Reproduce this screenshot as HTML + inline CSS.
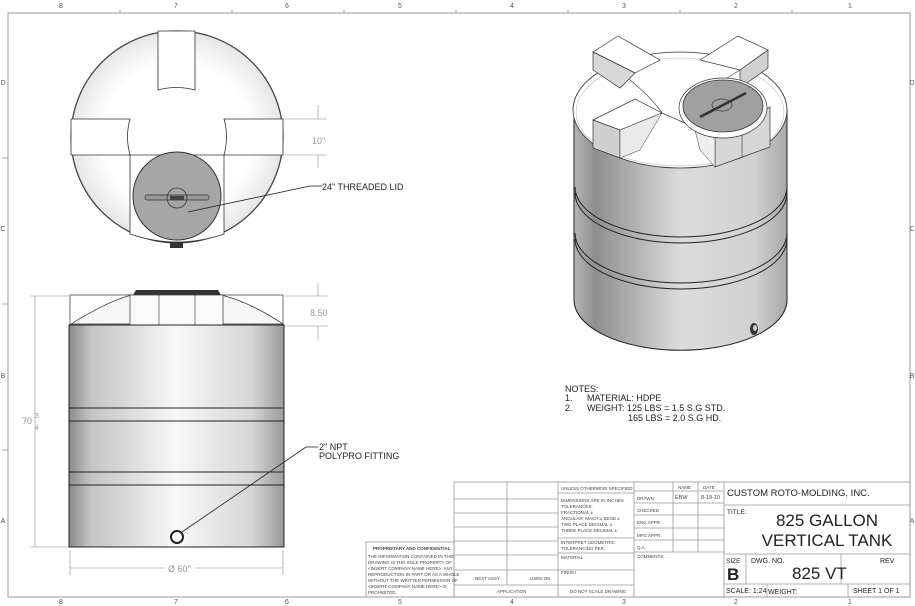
<!DOCTYPE html>
<html><head><style>
body{margin:0;background:#fff}
svg{display:block;font-family:"Liberation Sans",sans-serif}
</style></head><body>
<svg width="915" height="606" viewBox="0 0 915 606" xmlns="http://www.w3.org/2000/svg">
<defs>
<linearGradient id="cyl" x1="0" x2="1" y1="0" y2="0">
<stop offset="0" stop-color="#8a8a8a"/><stop offset="0.1" stop-color="#c4c4c4"/><stop offset="0.5" stop-color="#f8f8f8"/><stop offset="0.85" stop-color="#d6d6d6"/><stop offset="1" stop-color="#9a9a9a"/>
</linearGradient>
<linearGradient id="iso" x1="0" x2="1" y1="0" y2="0">
<stop offset="0" stop-color="#b5b5b5"/><stop offset="0.1" stop-color="#8e8e8e"/><stop offset="0.5" stop-color="#dcdcdc"/><stop offset="0.85" stop-color="#d0d0d0"/><stop offset="1" stop-color="#a8a8a8"/>
</linearGradient>
<radialGradient id="top" cx="0.5" cy="0.5" r="0.5"><stop offset="0.7" stop-color="#fff"/><stop offset="1" stop-color="#e6e6e6"/></radialGradient>
</defs>
<rect x="8" y="13" width="902" height="584" fill="none" stroke="#999" stroke-width="1"/>
<g fill="#555" font-size="7" text-anchor="middle">
<text x="61" y="8">8</text><text x="176" y="8">7</text><text x="287" y="8">6</text><text x="400" y="8">5</text><text x="512" y="8">4</text><text x="624" y="8">3</text><text x="736" y="8">2</text><text x="850" y="8">1</text>
<text x="61" y="604">8</text><text x="176" y="604">7</text><text x="287" y="604">6</text><text x="400" y="604">5</text><text x="512" y="604">4</text><text x="624" y="604">3</text><text x="736" y="604">2</text><text x="850" y="604">1</text>
<text x="3" y="85">D</text><text x="3" y="231">C</text><text x="3" y="378">B</text><text x="3" y="523">A</text>
<text x="912" y="85">D</text><text x="912" y="231">C</text><text x="912" y="378">B</text><text x="912" y="523">A</text>
</g>
<g stroke="#aaa" stroke-width="1">
<line x1="120" y1="10" x2="120" y2="13"/><line x1="232" y1="10" x2="232" y2="13"/><line x1="344" y1="10" x2="344" y2="13"/><line x1="456" y1="10" x2="456" y2="13"/><line x1="568" y1="10" x2="568" y2="13"/><line x1="680" y1="10" x2="680" y2="13"/><line x1="792" y1="10" x2="792" y2="13"/>
<line x1="2" y1="158" x2="8" y2="158"/><line x1="2" y1="304" x2="8" y2="304"/><line x1="2" y1="450" x2="8" y2="450"/>
</g>

<circle cx="177" cy="137" r="106" fill="url(#top)" stroke="#444" stroke-width="1.3"/>
<path d="M158 31 L195 31 L195 90 Q176 85 158 90 Z" fill="#fff" stroke="#333" stroke-width="0.8"/>
<path d="M71 119 L130 119 Q125 137 130 155 L71 155 Z" fill="#fff" stroke="#333" stroke-width="0.8"/>
<path d="M283 119 L224 119 Q229 137 224 155 L283 155 Z" fill="#fff" stroke="#333" stroke-width="0.8"/>
<path d="M130 155 L224 155 L224 234 Q177 250 130 234 Z" fill="#fff" stroke="#333" stroke-width="0.8"/>
<circle cx="177" cy="196" r="44" fill="#a6a6a6" stroke="#333" stroke-width="1"/>
<rect x="145" y="195" width="64" height="5" rx="2" fill="#999" stroke="#333" stroke-width="0.7"/>
<circle cx="177" cy="198" r="10" fill="none" stroke="#333" stroke-width="0.8"/>
<rect x="170" y="196" width="14" height="4" fill="#444"/>
<rect x="170" y="242" width="13" height="6" fill="#333"/>
<line x1="188" y1="212" x2="310" y2="186" stroke="#222" stroke-width="0.8"/>
<line x1="310" y1="186" x2="322" y2="186" stroke="#222" stroke-width="0.8"/>
<text x="322" y="190" font-size="9" fill="#222">24" THREADED LID</text>
<g stroke="#888" stroke-width="0.6"><line x1="285" y1="119" x2="327" y2="119"/><line x1="285" y1="155" x2="327" y2="155"/><line x1="318" y1="105" x2="318" y2="119"/><line x1="318" y1="155" x2="318" y2="168"/></g>
<text x="312" y="144" font-size="9" fill="#999">10"</text>

<rect x="70" y="295" width="213" height="30" fill="#fff" stroke="#333" stroke-width="0.7"/>
<path d="M71 324 Q110 300 132 295 L221 295 Q250 302 283 324 Z" fill="#f7f7f7" stroke="#333" stroke-width="0.7"/>
<rect x="130" y="295" width="93" height="30" fill="#fafafa" stroke="#333" stroke-width="0.7"/>
<line x1="159" y1="295" x2="159" y2="325" stroke="#333" stroke-width="0.6"/><line x1="195" y1="295" x2="195" y2="325" stroke="#333" stroke-width="0.6"/>
<path d="M133 295 L136 290 L218 290 L221 295 Z" fill="#333"/>
<rect x="69" y="325" width="215" height="222" fill="url(#cyl)" stroke="#222" stroke-width="1"/>
<g stroke="#222" stroke-width="1"><line x1="69" y1="408" x2="284" y2="408"/><line x1="69" y1="421" x2="284" y2="421"/><line x1="69" y1="472" x2="284" y2="472"/><line x1="69" y1="485" x2="284" y2="485"/></g>
<circle cx="177" cy="537" r="6" fill="#fff" stroke="#222" stroke-width="2"/>
<line x1="182" y1="532" x2="306" y2="447" stroke="#222" stroke-width="0.8"/><line x1="306" y1="447" x2="318" y2="447" stroke="#222" stroke-width="0.8"/>
<text x="319" y="450" font-size="9" fill="#222">2" NPT</text>
<text x="319" y="459" font-size="9" fill="#222">POLYPRO FITTING</text>
<g stroke="#888" stroke-width="0.6">
<line x1="285" y1="296" x2="328" y2="296"/><line x1="285" y1="326" x2="328" y2="326"/><line x1="318" y1="283" x2="318" y2="296"/><line x1="318" y1="326" x2="318" y2="340"/>
<line x1="30" y1="296" x2="69" y2="296"/><line x1="30" y1="547" x2="69" y2="547"/><line x1="35" y1="296" x2="35" y2="547"/>
<line x1="70" y1="550" x2="70" y2="575"/><line x1="283" y1="550" x2="283" y2="575"/><line x1="70" y1="568" x2="165" y2="568"/><line x1="195" y1="568" x2="283" y2="568"/>
</g>
<text x="310" y="316" font-size="9" fill="#999">8.50</text>
<text x="22" y="424" font-size="9" fill="#999">70</text><text x="35" y="418" font-size="7" fill="#999">3</text><text x="35" y="430" font-size="7" fill="#999">4</text>
<text x="168" y="572" font-size="9" fill="#999">Ø 60"</text>

<path d="M574 110 L574 300 A106 50 0 0 0 787 300 L787 110 Z" fill="url(#iso)" stroke="#222" stroke-width="1"/>
<ellipse cx="680" cy="110" rx="107" ry="58" fill="#fff" stroke="#333" stroke-width="0.8"/>
<ellipse cx="680" cy="112" rx="104" ry="54" fill="none" stroke="#bbb" stroke-width="0.6"/>
<g fill="none" stroke="#222" stroke-width="1">
<path d="M575 187 A106 50 0 0 0 787 187"/><path d="M575 193 A106 50 0 0 0 787 193"/>
<path d="M575 233 A106 50 0 0 0 787 233"/><path d="M575 239 A106 50 0 0 0 787 239"/>
</g>
<g stroke="#444" stroke-width="0.7" fill="none">
<path d="M620 72 Q650 95 662 113"/><path d="M662 113 Q640 140 620 158"/><path d="M662 113 Q690 125 715 137"/><path d="M740 70 Q715 85 695 100"/>
</g>
<path d="M593 52 L618 36 L660 60 L635 73 Z" fill="#fff" stroke="#333" stroke-width="0.7"/>
<path d="M593 52 L593 70 L620 88 L635 73 Z" fill="#d8d8d8" stroke="#333" stroke-width="0.7"/>
<path d="M700 60 L738 36 L768 50 L740 70 Z" fill="#fff" stroke="#333" stroke-width="0.7"/>
<path d="M768 50 L768 68 L740 88 L740 70 Z" fill="#d0d0d0" stroke="#333" stroke-width="0.7"/>
<path d="M593 120 L635 99 L662 113 L620 130 Z" fill="#fff" stroke="#333" stroke-width="0.7"/>
<path d="M593 120 L593 148 L620 158 L620 130 Z" fill="#cfcfcf" stroke="#333" stroke-width="0.7"/>
<path d="M620 130 L662 113 L640 150 L620 158 Z" fill="#eaeaea" stroke="#333" stroke-width="0.5"/>
<path d="M715 137 L770 107 L770 147 L715 167 Z" fill="#d6d6d6" stroke="#333" stroke-width="0.7"/>
<line x1="742" y1="123" x2="742" y2="157" stroke="#333" stroke-width="0.6"/>
<path d="M695 130 L715 137 L715 167 L700 150 Z" fill="#eee" stroke="#333" stroke-width="0.5"/>
<ellipse cx="723" cy="108" rx="44" ry="30" fill="#fff" stroke="#333" stroke-width="0.7"/>
<ellipse cx="723" cy="106" rx="40" ry="26" fill="#a0a0a0" stroke="#333" stroke-width="0.8"/>
<line x1="700" y1="117" x2="746" y2="93" stroke="#333" stroke-width="2.5"/>
<ellipse cx="722" cy="105" rx="10" ry="6" fill="none" stroke="#333" stroke-width="0.7"/>
<ellipse cx="754" cy="329" rx="4" ry="6" fill="#333"/><ellipse cx="755" cy="328" rx="2" ry="3" fill="#ccc"/>

<g font-size="9" fill="#222">
<text x="565" y="392">NOTES:</text>
<text x="565" y="401">1.</text><text x="587" y="401">MATERIAL: HDPE</text>
<text x="565" y="411">2.</text><text x="587" y="411">WEIGHT: 125 LBS = 1.5 S.G  STD.</text>
<text x="628" y="421">165 LBS = 2.0 S.G  HD.</text>
</g>

<g fill="none" stroke="#999" stroke-width="0.8">
<rect x="366" y="542" width="88" height="55"/>
<rect x="454" y="482" width="456" height="115"/>
<line x1="507" y1="482" x2="507" y2="585"/><line x1="558" y1="482" x2="558" y2="597"/>
<line x1="454" y1="499" x2="558" y2="499"/><line x1="454" y1="513" x2="558" y2="513"/><line x1="454" y1="527" x2="558" y2="527"/><line x1="454" y1="541" x2="558" y2="541"/><line x1="454" y1="555" x2="558" y2="555"/><line x1="454" y1="570" x2="634" y2="570"/><line x1="454" y1="585" x2="634" y2="585"/>
<line x1="634" y1="482" x2="634" y2="597"/>
<line x1="558" y1="493" x2="634" y2="493"/><line x1="558" y1="538" x2="634" y2="538"/><line x1="558" y1="553" x2="634" y2="553"/>
<line x1="673" y1="482" x2="673" y2="552"/><line x1="698" y1="482" x2="698" y2="552"/><line x1="724" y1="482" x2="724" y2="597"/>
<line x1="634" y1="491" x2="724" y2="491"/><line x1="634" y1="503" x2="724" y2="503"/><line x1="634" y1="515" x2="724" y2="515"/><line x1="634" y1="528" x2="724" y2="528"/><line x1="634" y1="540" x2="724" y2="540"/><line x1="634" y1="552" x2="724" y2="552"/>
<line x1="724" y1="505" x2="910" y2="505"/><line x1="724" y1="554" x2="910" y2="554"/><line x1="724" y1="584" x2="910" y2="584"/>
<line x1="746" y1="554" x2="746" y2="584"/><line x1="841" y1="554" x2="841" y2="584"/>
<line x1="767" y1="584" x2="767" y2="597"/><line x1="848" y1="584" x2="848" y2="597"/>
</g>
<g fill="#444" font-size="4.5">
<text x="373" y="550" font-weight="bold">PROPRIETARY AND CONFIDENTIAL</text>
<text x="368" y="558">THE INFORMATION CONTAINED IN THIS</text>
<text x="368" y="564">DRAWING IS THE SOLE PROPERTY OF</text>
<text x="368" y="570">&lt;INSERT COMPANY NAME HERE&gt;.  ANY</text>
<text x="368" y="576">REPRODUCTION IN PART OR AS A WHOLE</text>
<text x="368" y="582">WITHOUT THE WRITTEN PERMISSION OF</text>
<text x="368" y="588">&lt;INSERT COMPANY NAME HERE&gt; IS</text>
<text x="368" y="594">PROHIBITED.</text>
<text x="475" y="580">NEXT ASSY</text><text x="530" y="580">USED ON</text>
<text x="497" y="593">APPLICATION</text><text x="570" y="593">DO NOT SCALE DRAWING</text>
<text x="561" y="490">UNLESS OTHERWISE SPECIFIED:</text>
<text x="561" y="502">DIMENSIONS ARE IN INCHES</text>
<text x="561" y="508">TOLERANCES:</text>
<text x="561" y="514">FRACTIONAL ±</text>
<text x="561" y="520">ANGULAR: MACH ±   BEND ±</text>
<text x="561" y="526">TWO PLACE DECIMAL  ±</text>
<text x="561" y="532">THREE PLACE DECIMAL  ±</text>
<text x="561" y="544">INTERPRET GEOMETRIC</text>
<text x="561" y="550">TOLERANCING PER:</text>
<text x="561" y="559">MATERIAL</text><text x="561" y="574">FINISH</text>
<text x="678" y="489">NAME</text><text x="703" y="489">DATE</text>
<text x="637" y="500">DRAWN</text><text x="637" y="512">CHECKED</text><text x="637" y="524">ENG APPR.</text><text x="637" y="537">MFG APPR.</text><text x="637" y="549">Q.A.</text><text x="637" y="558">COMMENTS:</text>
<text x="675" y="499" font-size="5.5">EBW</text><text x="701" y="499" font-size="5.5">8-19-10</text>
</g>
<g fill="#222">
<text x="727" y="496" font-size="9.5">CUSTOM ROTO-MOLDING, INC.</text>
<text x="727" y="514" font-size="6.5">TITLE:</text>
<text x="827" y="526" font-size="17" text-anchor="middle">825 GALLON</text>
<text x="827" y="546" font-size="17" text-anchor="middle">VERTICAL TANK</text>
<text x="726" y="563" font-size="6.5">SIZE</text><text x="751" y="563" font-size="7">DWG.  NO.</text><text x="880" y="563" font-size="7">REV</text>
<text x="727" y="580" font-size="17" font-weight="bold">B</text>
<text x="792" y="579" font-size="17">825 VT</text>
<text x="726" y="593" font-size="7">SCALE: 1:24</text><text x="768" y="594" font-size="7">WEIGHT:</text><text x="853" y="593" font-size="7">SHEET 1 OF 1</text>
</g>
</svg>
</body></html>
